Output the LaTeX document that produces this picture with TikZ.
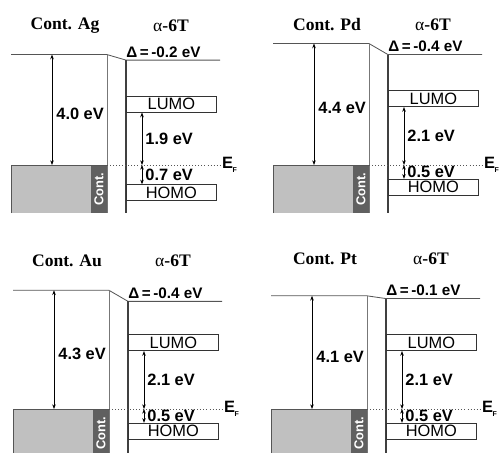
\documentclass[tikz,border=0pt]{standalone}
\usepackage{fontspec}
\setmainfont{Liberation Serif}
\setsansfont{Liberation Sans}
\usetikzlibrary{arrows.meta}
\definecolor{metalgray}{HTML}{C0C0C0}
\definecolor{contgray}{HTML}{606060}
\definecolor{linegray}{HTML}{555555}
\tikzset{
  x=0.03cm,y=0.03cm,
  >={Stealth[length=4pt,width=3pt]},
  lvl/.style={linegray,line width=0.7pt},
  orbbox/.style={draw=black!80,line width=0.6pt,minimum width=2.7cm,minimum height=0.48cm,inner sep=0pt,
    font=\sffamily\fontsize{14}{14}\selectfont},
  evlab/.style={font=\sffamily\bfseries\fontsize{14}{14}\selectfont,inner sep=1pt},
  ttl/.style={font=\bfseries\fontsize{15}{15}\selectfont}
}
\begin{document}
\begin{tikzpicture}
  \useasboundingbox (0,0) rectangle (500,453);
  \foreach \xm/\ef/\ty/\metal/\wf/\dl/\gap/\hole in {107/165/26/Ag/4.0/-0.2/1.9/0.7,
      369/165/25/Pd/4.4/-0.4/2.1/0.5, 109/409/261/Au/4.3/-0.4/2.1/0.5, 367/409/259/Pt/4.1/-0.1/2.1/0.5}{
  \begin{scope}[shift={(\xm,453-\ef)},y=0.828cm]
    % metal and contact
    \fill[metalgray] (-96,0) rectangle (-16,-1.74);
    \fill[contgray] (-16,0) rectangle (0,-1.74);
    \draw[linegray,line width=0.5pt] (-96,-1.74) -- (-96,0) -- (0,0);
    \node[rotate=90,white,font=\sffamily\bfseries\fontsize{11}{11}\selectfont] (cont) at (-8,-0.87) {Cont.};
    % vacuum levels
    \coordinate (vl) at (-96,\wf);
    \coordinate (vm) at (0,\wf);
    \coordinate (vo) at (19,{\wf+(\dl)});
    \coordinate (vr) at (113,{\wf+(\dl)});
    \coordinate (mb) at (0,-1.74);
    \coordinate (ob) at (19,-1.74);
    \draw[lvl] (vl) -- (vm) -- (vo) -- (vr);
    \draw[linegray!80,line width=0.8pt] (vm) -- (mb);
    \draw[black!75,line width=0.9pt] (vo) -- (ob);
    % Fermi level
    \coordinate (efl) at (0,0);
    \coordinate (efr) at (113,0);
    \draw[linegray,dotted,line width=0.6pt] (efl) -- (efr);
    \node[anchor=west,font=\sffamily\bfseries\fontsize{14}{14}\selectfont,inner sep=0pt] (eflab) at (115,0)
      {E\kern-0.5pt\raisebox{-3pt}{\fontsize{6}{6}\selectfont F}};
    % orbitals
    \node[orbbox,anchor=south west] (lumo) at (19,\gap) {LUMO};
    \node[orbbox,anchor=north west] (homo) at (19,-\hole) {HOMO};
    % work function
    \coordinate (wt) at (-55,\wf);
    \coordinate (wb) at (-55,0);
    \draw[<->,line width=0.5pt] (wt) -- (wb);
    \node[evlab,anchor=west] (wflab) at (-52,{\wf/2-0.15}) {\wf{} eV};
    % barriers
    \coordinate (gt) at (35,\gap);
    \coordinate (gm) at (35,0);
    \coordinate (gb) at (35,-\hole);
    \draw[<->,line width=0.5pt] (gt) -- (gm);
    \draw[<->,line width=0.5pt] (gm) -- (gb);
    \node[evlab,anchor=west] (gaplab) at (37,\gap/2) {\gap{} eV};
    \node[evlab,anchor=west] (holelab) at (37,-\hole/2) {\hole{} eV};
    \node[evlab,anchor=south west,font=\sffamily\bfseries\fontsize{13}{13}\selectfont] (dlab) at (18,{\wf+(\dl)+0.05}) {Δ\,=\,\dl{} eV};
    % titles
    \node[ttl] (mtitle) at (-42,{(\ef-\ty)/27.6}) {Cont. \metal};
    \node[ttl] (otitle) at (64,{(\ef-\ty)/27.6}) {{\mdseries α}-6T};
  \end{scope}
  }
\end{tikzpicture}
\end{document}
